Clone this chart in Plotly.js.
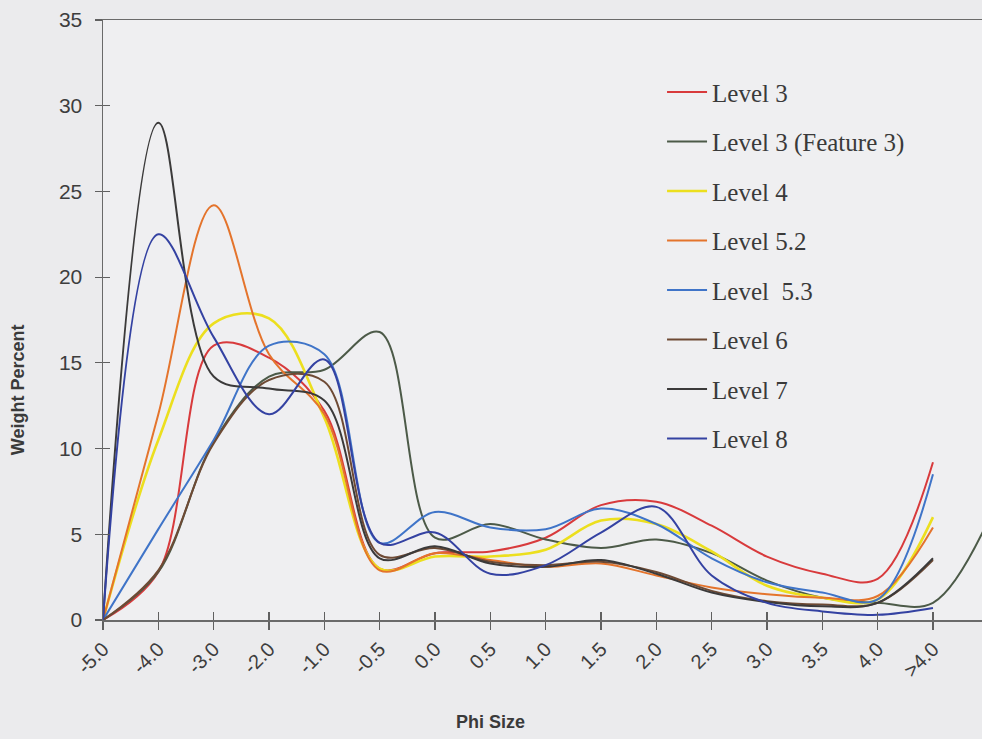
<!DOCTYPE html>
<html>
<head>
<meta charset="utf-8">
<script src="https://cdn.plot.ly/plotly-3.0.1.min.js"></script>
<style>
  html, body { margin: 0; padding: 0; background: #ebebed; }
  #chart { width: 982px; height: 739px; }
</style>
</head>
<body>
<div id="chart"></div>
<script>
// Category labels (tick labels) along the Phi Size axis
const phiLabels = ["-5.0", "-4.0", "-3.0", "-2.0", "-1.0", "-0.5", "0.0", "0.5", "1.0", "1.5", "2.0", "2.5", "3.0", "3.5", "4.0", ">4.0"];

// Series values (Weight Percent)
const level3      = [0, 2.8, 16.0, 15.3, 12.2, 3.0, 3.9, 4.0, 4.8, 6.7, 6.9, 5.5, 3.7, 2.7, 2.4, 9.2];
const level3F3    = [0, 2.8, 10.4, 14.2, 14.6, 16.8, 4.8, 5.6, 4.7, 4.2, 4.7, 3.9, 2.3, 1.3, 1.0, 1.0, 5.8];
const level4      = [0, 10.5, 17.3, 17.6, 11.8, 3.0, 3.7, 3.7, 4.1, 5.8, 5.6, 4.0, 2.0, 1.3, 1.2, 6.0];
const level52     = [0, 12.0, 24.2, 15.5, 12.0, 2.9, 3.9, 3.5, 3.1, 3.3, 2.6, 1.9, 1.5, 1.3, 1.4, 5.4];
const level53     = [0, 5.3, 10.5, 16.0, 15.5, 4.5, 6.3, 5.4, 5.3, 6.5, 5.6, 3.6, 2.2, 1.6, 1.2, 8.5];
const level6      = [0, 2.9, 10.3, 14.0, 13.9, 3.8, 4.2, 3.4, 3.2, 3.4, 2.8, 1.7, 1.1, 0.9, 1.0, 3.5];
const level7      = [0, 29.0, 14.2, 13.5, 12.8, 3.6, 4.3, 3.3, 3.1, 3.5, 2.7, 1.6, 1.05, 0.8, 1.0, 3.6];
const level8      = [0, 22.5, 16.5, 12.0, 15.2, 4.5, 5.1, 2.7, 3.2, 5.1, 6.6, 2.6, 1.0, 0.5, 0.3, 0.7];

const seriesNames  = ["Level 3", "Level 3 (Feature 3)", "Level 4", "Level 5.2", "Level  5.3", "Level 6", "Level 7", "Level 8"];
const seriesValues = [level3, level3F3, level4, level52, level53, level6, level7, level8];
const seriesColors = ["#d83a3c", "#4c5a48", "#ecdf1e", "#e4742c", "#3f74c8", "#6e4a34", "#3b3a3a", "#3442a2"];
const seriesWidths = [2, 2, 2.6, 2, 2, 2, 2, 2];

const traces = seriesValues.map((vals, i) => ({
  type: "scatter",
  mode: "lines",
  name: seriesNames[i],
  x: vals.map((_, k) => k),
  y: vals,
  line: { color: seriesColors[i], width: seriesWidths[i], shape: "spline", smoothing: 1 },
  legendgroup: "g" + i,
  hoverinfo: "skip"
}));

// overlay axes used only to draw the inner half of the crossing tick marks
traces.push({ type: "scatter", mode: "lines", x: [], y: [], xaxis: "x2", yaxis: "y2", showlegend: false, hoverinfo: "skip" });

const tickIdx = phiLabels.map((_, k) => k);
const xRange = [0, 15.886];
const titleFont = { size: 18, color: "#3a3a3a", family: "Liberation Sans, Arial, sans-serif", weight: "bold" };

const layout = {
  width: 982,
  height: 739,
  margin: { l: 103, r: 0, t: 20, b: 119 },
  paper_bgcolor: "#ebebed",
  plot_bgcolor: "#efeff1",
  font: { family: "Liberation Sans, Arial, sans-serif", color: "#3d3d3d" },
  showlegend: true,
  legend: {
    x: 0.636, y: 0.918, xanchor: "left", yanchor: "top",
    bgcolor: "rgba(0,0,0,0)",
    font: { family: "Liberation Serif, Times New Roman, serif", size: 25, color: "#3a3a3a" },
    traceorder: "grouped",
    tracegroupgap: 14,
    itemwidth: 40
  },
  annotations: [
    { text: "Phi Size", xref: "paper", yref: "paper", x: 0.4414, y: -0.17, xanchor: "center", yanchor: "middle", showarrow: false, font: titleFont },
    { text: "Weight Percent", xref: "paper", yref: "paper", x: -0.0967, y: 0.383, xanchor: "center", yanchor: "middle", textangle: -90, showarrow: false, font: titleFont }
  ],
  xaxis: {
    range: xRange,
    tickmode: "array",
    tickvals: tickIdx,
    ticktext: phiLabels,
    tickangle: -45,
    ticks: "outside",
    ticklen: 8,
    tickcolor: "#606060",
    tickwidth: 1.2,
    showline: true,
    linecolor: "#6a6a6a",
    linewidth: 1.5,
    mirror: true,
    showgrid: false,
    zeroline: false,
    tickfont: { size: 20, color: "#3d3d3d" },
    fixedrange: true
  },
  yaxis: {
    range: [0, 35],
    tickmode: "linear",
    tick0: 0,
    dtick: 5,
    ticks: "outside",
    ticklen: 7,
    tickcolor: "#606060",
    tickwidth: 1.2,
    showline: true,
    linecolor: "#6a6a6a",
    linewidth: 1.5,
    showgrid: false,
    zeroline: false,
    tickfont: { size: 21, color: "#3d3d3d" },
    ticklabelstandoff: 8,
    fixedrange: true
  },
  xaxis2: {
    overlaying: "x", anchor: "y2", range: xRange,
    tickmode: "array", tickvals: tickIdx, showticklabels: false,
    ticks: "inside", ticklen: 8, tickcolor: "#606060", tickwidth: 1.2,
    showline: false, showgrid: false, zeroline: false, fixedrange: true
  },
  yaxis2: {
    overlaying: "y", anchor: "x2", range: [0, 35],
    tickmode: "linear", tick0: 0, dtick: 5, showticklabels: false,
    ticks: "inside", ticklen: 7, tickcolor: "#606060", tickwidth: 1.2,
    showline: false, showgrid: false, zeroline: false, fixedrange: true
  }
};

Plotly.newPlot("chart", traces, layout, { staticPlot: true, displayModeBar: false });
</script>
</body>
</html>
